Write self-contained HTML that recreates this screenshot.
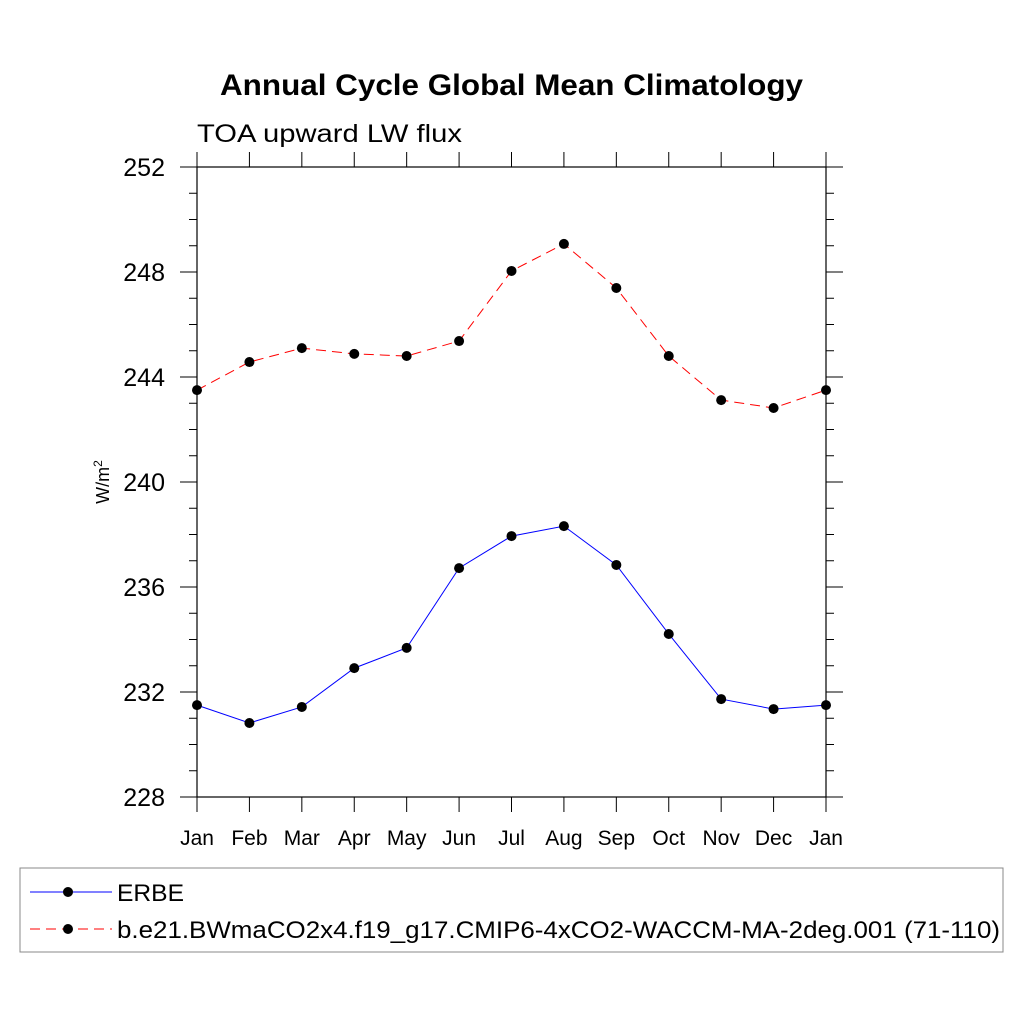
<!DOCTYPE html>
<html><head><meta charset="utf-8"><style>
body{margin:0;background:#fff}
text{font-family:"Liberation Sans",sans-serif}
</style></head><body>
<svg id="c" width="1024" height="1024" xmlns="http://www.w3.org/2000/svg">
<text x="220" y="95" font-size="30" font-weight="bold" textLength="583" lengthAdjust="spacingAndGlyphs">Annual Cycle Global Mean Climatology</text>
<text x="197" y="142" font-size="25" textLength="265" lengthAdjust="spacingAndGlyphs">TOA upward LW flux</text>
<text transform="translate(109,482) rotate(-90)" text-anchor="middle" font-size="18">W/m<tspan dy="-7" font-size="12">2</tspan></text>
<rect x="197" y="167" width="629" height="630" fill="none" stroke="#000" stroke-width="1.2"/>
<g id="axes"></g><g id="series"></g>
<rect x="20" y="868" width="983" height="84" fill="none" stroke="#888" stroke-width="1"/>
<g>
<line x1="30" y1="892" x2="112" y2="892" stroke="#00f" stroke-width="1"/>
<circle cx="68" cy="892" r="5" fill="#000"/>
<text x="117" y="901" font-size="24" textLength="67" lengthAdjust="spacingAndGlyphs">ERBE</text></g>
<g>
<line x1="30" y1="929" x2="112" y2="929" stroke="#f00" stroke-width="1" stroke-dasharray="10,6"/>
<circle cx="68" cy="929" r="5" fill="#000"/>
<text x="117" y="938" font-size="24" textLength="883" lengthAdjust="spacingAndGlyphs">b.e21.BWmaCO2x4.f19_g17.CMIP6-4xCO2-WACCM-MA-2deg.001 (71-110)</text></g>
</svg>
<script>
const months=["Jan","Feb","Mar","Apr","May","Jun","Jul","Aug","Sep","Oct","Nov","Dec","Jan"];
const erbe=[231.5,230.82,231.43,232.91,233.68,236.72,237.94,238.32,236.84,234.21,231.73,231.35,231.5];
const model=[243.5,244.57,245.1,244.88,244.8,245.37,248.04,249.07,247.39,244.8,243.12,242.82,243.5];
const yTicks=[228,232,236,240,244,248,252];
const NS="http://www.w3.org/2000/svg";
const x=i=>197+i*(629/12), y=v=>797-(v-228)*(630/24);
const ax=document.getElementById('axes'), se=document.getElementById('series');
function mk(t,a,p){const e=document.createElementNS(NS,t);for(const k in a)e.setAttribute(k,a[k]);p.appendChild(e);return e;}
for(let v=228;v<=252;v++){
  const maj=yTicks.includes(v), L=maj?17:8;
  const l1=mk('line',{x1:197-L,x2:197,y1:y(v),y2:y(v),stroke:'#000','stroke-width':1},ax);
  
  
  const l2=mk('line',{x1:826,x2:826+L,y1:y(v),y2:y(v),stroke:'#000','stroke-width':1},ax);
  
  
}
yTicks.forEach(v=>{const t=mk('text',{x:165,y:y(v)+9,'text-anchor':'end','font-size':25},ax);t.textContent=v;
  
  });
months.forEach((m,i)=>{
  const a=mk('line',{x1:x(i),x2:x(i),y1:152,y2:167,stroke:'#000'},ax);
  
  
  const b=mk('line',{x1:x(i),x2:x(i),y1:797,y2:812,stroke:'#000'},ax);
  
  
  const t=mk('text',{x:x(i),y:845,'text-anchor':'middle','font-size':21},ax);t.textContent=m;
  
  
});
function series(d,col,dash,name){
  const p=mk('polyline',{points:d.map((v,i)=>x(i)+','+y(v)).join(' '),fill:'none',stroke:col,'stroke-width':1,'stroke-dasharray':dash},se);
  
  
  d.forEach((v,i)=>{const c=mk('circle',{cx:x(i),cy:y(v),r:5,fill:'#000'},se);
    
    });
}
series(erbe,'#00f','none','erbe');
series(model,'#f00','10,6','model');
</script>
</body></html>
